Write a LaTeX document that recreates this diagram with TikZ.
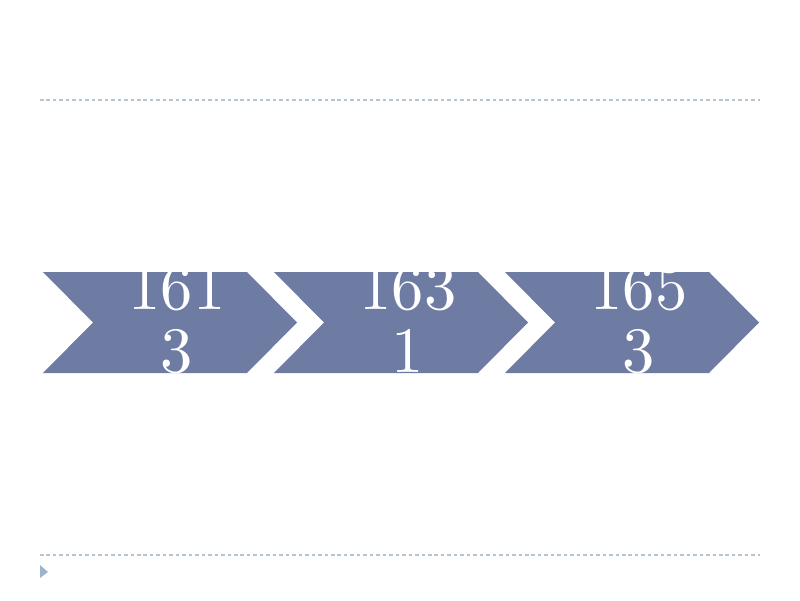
\documentclass[tikz,border=0pt]{standalone}
\usetikzlibrary{calc}

\begin{document}
\begin{tikzpicture}
    % Define colours
    \definecolor{arrowColour}{HTML}{6E7BA3}
    \definecolor{ruleColour}{HTML}{B4C6D6}
    \definecolor{bulletColour}{HTML}{9CB4CC}

    % Define chevron size
    \def\chevLength{6.35}
    \def\chevNotch{1.25}
    \def\chevTop{8.2}
    \def\chevBottom{5.675}
    \def\chevMid{6.9375}
    \def\chevPath#1{(#1,\chevTop) -- ++(\chevLength-\chevNotch,0)
        -- (#1+\chevLength,\chevMid) -- (#1+\chevLength-\chevNotch,\chevBottom)
        -- (#1,\chevBottom) -- (#1+\chevNotch,\chevMid) -- cycle}

    \tikzset{
        yearText/.style={text=white, inner sep=0pt, anchor=base, align=center,
            font=\fontsize{10}{9.6}\selectfont, scale=4.6},
        ruleLine/.style={ruleColour, line width=0.85pt, dash pattern=on 2.5pt off 2.1pt}
    }

    % Page
    \useasboundingbox (0,0) rectangle (20,15);

    % Draw dotted rules
    \coordinate (topL) at (1,12.5);
    \coordinate (topR) at (19,12.5);
    \coordinate (botL) at (1,1.125);
    \coordinate (botR) at (19,1.125);
    \draw[ruleLine] (topL) -- (topR);
    \draw[ruleLine] (botL) -- (botR);

    % Small bullet
    \fill[bulletColour] (1,0.55) -- (1.2,0.7) -- (1,0.875) -- cycle;

    % Draw the chevrons with their years
    \foreach \x/\year/\name in {1.075/{161\\3}/first, 6.85/{163\\1}/second, 12.625/{165\\3}/third} {
        \fill[arrowColour] \chevPath{\x};
        \begin{scope}
            \clip \chevPath{\x};
            \node[yearText] (\name) at (\x+3.35,5.7) {\year};
        \end{scope}
    }

\end{tikzpicture}
\end{document}
